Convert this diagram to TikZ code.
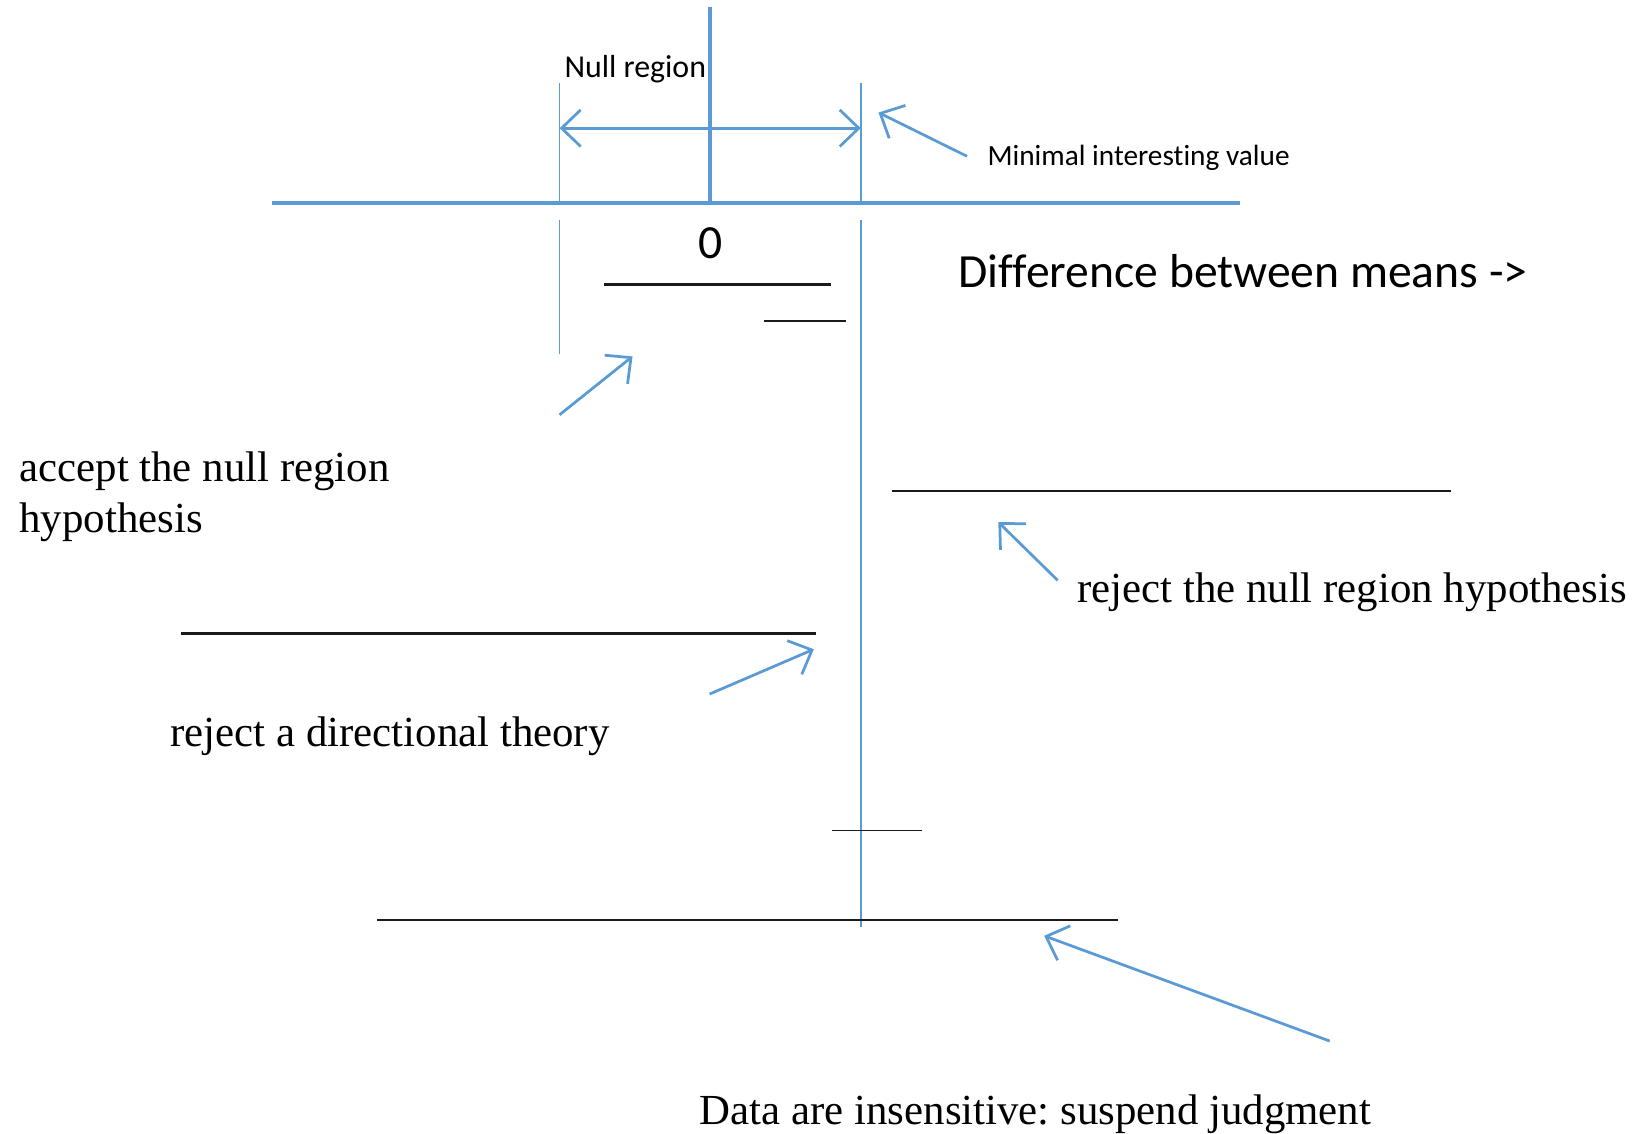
\documentclass[tikz,border=0pt]{standalone}
\usepackage{fontspec}
\setmainfont{Liberation Serif}
\newfontfamily\calib[Ligatures=NoCommon]{Carlito}
\usetikzlibrary{arrows.meta}
\definecolor{axisblue}{HTML}{5B9BD5}
\definecolor{ink}{HTML}{1A1A1A}
\frenchspacing
\begin{document}
\begin{tikzpicture}[x=0.1mm,y=-0.1mm,
  axisline/.style={draw=axisblue,line width=1.15pt},
  guide/.style={draw=axisblue,line width=0.4pt},
  pointer/.style={draw=axisblue,line width=0.75pt,-{Straight Barb[length=5.2pt,width=10pt]}},
  interval/.style={draw=ink,line width=0.6pt},
  shortint/.style={draw=ink,line width=0.45pt},
  serif/.style={inner sep=0pt,anchor=base west,font=\fontsize{11.7}{14}\selectfont},
  sans/.style={inner sep=0pt,font=\calib\fontsize{8.3}{10}\selectfont},
  bigsans/.style={inner sep=0pt,font=\calib\fontsize{13}{15}\selectfont}]
\useasboundingbox (0,0) rectangle (1568,1088);

% axis and zero line
\coordinate (axL) at (261,195);
\coordinate (axR) at (1190,195);
\coordinate (zeroTop) at (681,7);
\coordinate (zeroBot) at (681,195);
\draw[axisline] (axL) -- (axR);
\draw[axisline] (zeroTop) -- (zeroBot);

% bounds of the null region
\coordinate (lbTop) at (537,80);
\coordinate (lbAx) at (537,195);
\coordinate (lbLow) at (537,211);
\coordinate (lbEnd) at (537,340);
\coordinate (rbTop) at (826,80);
\coordinate (rbAx) at (826,195);
\coordinate (rbLow) at (826,211);
\coordinate (rbEnd) at (826,890);
\draw[guide] (lbTop) -- (lbAx);
\draw[guide] (lbLow) -- (lbEnd);
\draw[guide] (rbTop) -- (rbAx);
\draw[guide] (rbLow) -- (rbEnd);

% null region span
\coordinate (spanL) at (537,123);
\coordinate (spanR) at (826,123);
\draw[pointer,{Straight Barb[length=5.2pt,width=10pt]}-{Straight Barb[length=5.2pt,width=10pt]}] (spanL) -- (spanR);

% labels
\node[sans,anchor=base west,font=\calib\fontsize{8.7}{10}\selectfont] (nullreg) at (541,74) {Null region};
\node[sans,anchor=base west,font=\calib\fontsize{8.0}{10}\selectfont] (miv) at (947,159) {Minimal interesting value};
\node[bigsans,anchor=base] (zero) at (682,248) {0};
\node[bigsans,anchor=base west] (diff) at (919,276) {Difference between means ->};

% confidence intervals
\coordinate (ci1a) at (580,273);  \coordinate (ci1b) at (797,273);
\coordinate (ci2a) at (733,308);  \coordinate (ci2b) at (812,308);
\coordinate (ci3a) at (856,471);  \coordinate (ci3b) at (1392,471);
\coordinate (ci4a) at (174,608);  \coordinate (ci4b) at (783,608);
\coordinate (ci5a) at (798,797);  \coordinate (ci5b) at (885,797);
\coordinate (ci6a) at (362,883);  \coordinate (ci6b) at (1073,883);
\draw[interval] (ci1a) -- (ci1b);
\draw[shortint] (ci2a) -- (ci2b);
\draw[interval] (ci3a) -- (ci3b);
\draw[interval] (ci4a) -- (ci4b);
\draw[shortint] (ci5a) -- (ci5b);
\draw[interval] (ci6a) -- (ci6b);

% decision labels
\node[serif] (accept) at (18,462) {accept the null region};
\node[serif] (accept2) at (18,511) {hypothesis};
\node[serif] (rejnull) at (1033,578) {reject the null region hypothesis};
\node[serif] (rejdir) at (163,716) {reject a directional theory};
\node[serif] (insens) at (671,1079) {Data are insensitive: suspend judgment};

% pointers
\coordinate (p1s) at (928,150); \coordinate (p1e) at (843,108);
\coordinate (p2s) at (537,398); \coordinate (p2e) at (607,342);
\coordinate (p3s) at (1015,557); \coordinate (p3e) at (958,501);
\coordinate (p4s) at (681,666); \coordinate (p4e) at (781,623);
\coordinate (p5s) at (1276,999); \coordinate (p5e) at (1002,898);
\draw[pointer] (p1s) -- (p1e);
\draw[pointer] (p2s) -- (p2e);
\draw[pointer] (p3s) -- (p3e);
\draw[pointer] (p4s) -- (p4e);
\draw[pointer] (p5s) -- (p5e);
\end{tikzpicture}
\end{document}
